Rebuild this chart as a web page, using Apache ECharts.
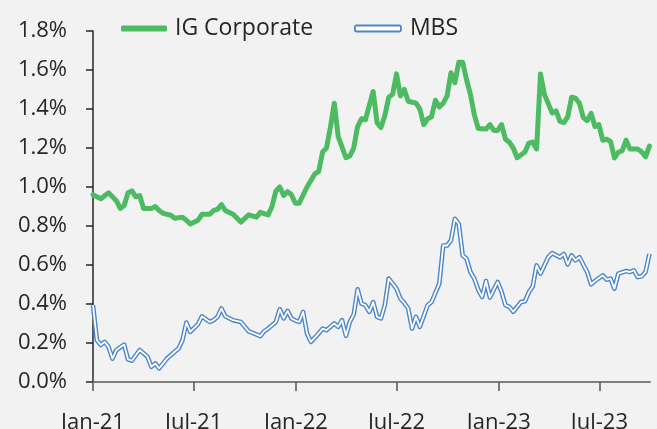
<!DOCTYPE html>
<html>
<head>
<meta charset="utf-8">
<script src="https://cdn.jsdelivr.net/npm/echarts@6/dist/echarts.min.js"></script>
<style>
  html, body { margin: 0; padding: 0; background: #f2f2f2; }
  #chart { width: 657px; height: 429px; }
</style>
</head>
<body>
<div id="chart"></div>
<script>
// Weekly spread readings, in percent
const igDates = [
  '2021-01-01','2021-01-15','2021-01-29','2021-02-12','2021-02-19','2021-02-26','2021-03-05','2021-03-12','2021-03-19','2021-03-26',
  '2021-04-02','2021-04-16','2021-04-23','2021-04-30','2021-05-07','2021-05-21','2021-05-28','2021-06-11','2021-06-18','2021-06-25',
  '2021-07-09','2021-07-16','2021-07-30','2021-08-06','2021-08-13','2021-08-20','2021-08-27','2021-09-10','2021-09-24',
  '2021-10-08','2021-10-22','2021-10-29','2021-11-12','2021-11-19','2021-11-26','2021-12-03','2021-12-10','2021-12-17','2021-12-24','2021-12-31',
  '2022-01-07','2022-01-21','2022-02-04','2022-02-11','2022-02-18','2022-02-25','2022-03-04','2022-03-11','2022-03-18',
  '2022-04-01','2022-04-08','2022-04-15','2022-04-22','2022-04-29','2022-05-06','2022-05-20','2022-05-27','2022-06-03','2022-06-10','2022-06-17','2022-06-24',
  '2022-07-01','2022-07-08','2022-07-15','2022-07-22','2022-08-05','2022-08-12','2022-08-19','2022-08-26','2022-09-02','2022-09-09','2022-09-16','2022-09-23','2022-09-30',
  '2022-10-07','2022-10-14','2022-10-21','2022-10-28','2022-11-04','2022-11-11','2022-11-18','2022-11-25','2022-12-09','2022-12-16','2022-12-23','2022-12-30',
  '2023-01-06','2023-01-13','2023-01-20','2023-01-27','2023-02-03','2023-02-17','2023-02-24','2023-03-03','2023-03-10','2023-03-17','2023-03-24',
  '2023-04-07','2023-04-14','2023-04-21','2023-04-28','2023-05-05','2023-05-12','2023-05-19','2023-05-26','2023-06-02','2023-06-09','2023-06-16','2023-06-23','2023-06-30',
  '2023-07-07','2023-07-14','2023-07-21','2023-07-28','2023-08-04','2023-08-11','2023-08-18','2023-08-25','2023-09-08','2023-09-15','2023-09-22','2023-09-29'
];
const igValues = [
  0.96, 0.94, 0.97, 0.93, 0.89, 0.905, 0.97, 0.98, 0.95, 0.956,
  0.89, 0.89, 0.90, 0.88, 0.865, 0.855, 0.84, 0.845, 0.83, 0.81,
  0.83, 0.86, 0.86, 0.88, 0.885, 0.91, 0.88, 0.86, 0.82,
  0.857, 0.845, 0.87, 0.857, 0.90, 0.98, 1.00, 0.956, 0.976, 0.96, 0.917,
  0.917, 1.00, 1.067, 1.08, 1.18, 1.20, 1.305, 1.43, 1.26,
  1.15, 1.16, 1.20, 1.31, 1.35, 1.345, 1.49, 1.33, 1.305, 1.365, 1.46, 1.475,
  1.58, 1.467, 1.50, 1.44, 1.43, 1.40, 1.32, 1.35, 1.36, 1.445, 1.41, 1.43, 1.467,
  1.586, 1.535, 1.64, 1.64, 1.55, 1.475, 1.37, 1.30, 1.297, 1.32, 1.29, 1.29,
  1.32, 1.245, 1.23, 1.20, 1.15, 1.18, 1.225, 1.23, 1.195, 1.58, 1.475,
  1.38, 1.39, 1.336, 1.33, 1.36, 1.46, 1.455, 1.43, 1.356, 1.34, 1.377, 1.31, 1.32,
  1.24, 1.245, 1.234, 1.149, 1.178, 1.186, 1.24, 1.195, 1.195, 1.18, 1.155, 1.21
];

const mbsDates = [
  '2021-01-01','2021-01-08','2021-01-15','2021-01-22','2021-01-29','2021-02-05','2021-02-12','2021-02-26','2021-03-05','2021-03-12','2021-03-26',
  '2021-04-09','2021-04-16','2021-04-23','2021-04-30','2021-05-14','2021-05-28','2021-06-04','2021-06-11','2021-06-18','2021-06-25',
  '2021-07-09','2021-07-16','2021-07-30','2021-08-06','2021-08-13','2021-08-20','2021-08-27','2021-09-10','2021-09-24',
  '2021-10-08','2021-10-15','2021-10-29','2021-11-05','2021-11-12','2021-11-26','2021-12-03','2021-12-10','2021-12-17','2021-12-24','2021-12-31',
  '2022-01-07','2022-01-14','2022-01-21','2022-01-28','2022-02-11','2022-02-18','2022-02-25','2022-03-11','2022-03-18','2022-03-25',
  '2022-04-01','2022-04-08','2022-04-15','2022-04-22','2022-04-29','2022-05-06','2022-05-13','2022-05-20','2022-05-27','2022-06-03','2022-06-10','2022-06-17',
  '2022-07-01','2022-07-08','2022-07-15','2022-07-22','2022-07-29','2022-08-05','2022-08-12','2022-08-26','2022-09-02','2022-09-16','2022-09-23','2022-09-30',
  '2022-10-07','2022-10-14','2022-10-21','2022-10-28','2022-11-04','2022-11-11','2022-11-18','2022-11-25','2022-12-02','2022-12-09','2022-12-16','2022-12-23','2022-12-30',
  '2023-01-06','2023-01-13','2023-01-20','2023-01-27','2023-02-10','2023-02-17','2023-02-24','2023-03-03','2023-03-10','2023-03-17','2023-03-31',
  '2023-04-07','2023-04-21','2023-04-28','2023-05-05','2023-05-12','2023-05-19','2023-05-26','2023-06-09','2023-06-16','2023-06-23',
  '2023-07-07','2023-07-14','2023-07-21','2023-07-28','2023-08-04','2023-08-18','2023-08-25','2023-09-01','2023-09-08','2023-09-15','2023-09-22','2023-09-29'
];
const mbsValues = [
  0.394, 0.215, 0.19, 0.206, 0.18, 0.12, 0.164, 0.192, 0.116, 0.109, 0.164,
  0.13, 0.078, 0.095, 0.07, 0.12, 0.155, 0.172, 0.215, 0.305, 0.257,
  0.297, 0.337, 0.308, 0.317, 0.334, 0.377, 0.337, 0.317, 0.308,
  0.26, 0.252, 0.235, 0.26, 0.274, 0.308, 0.373, 0.326, 0.365, 0.326, 0.315,
  0.308, 0.36, 0.249, 0.206, 0.249, 0.274, 0.266, 0.30, 0.283, 0.317,
  0.237, 0.308, 0.346, 0.475, 0.402, 0.394, 0.36, 0.41, 0.334, 0.326, 0.394, 0.53,
  0.479, 0.428, 0.405, 0.377, 0.274, 0.334, 0.283, 0.394, 0.41, 0.505, 0.70, 0.70,
  0.726, 0.837, 0.811, 0.649, 0.632, 0.564, 0.53, 0.474, 0.436, 0.518, 0.433, 0.474, 0.513,
  0.462, 0.394, 0.385, 0.36, 0.41, 0.414, 0.46, 0.49, 0.598, 0.556, 0.64,
  0.661, 0.64, 0.657, 0.603, 0.649, 0.624, 0.64, 0.564, 0.501, 0.518,
  0.547, 0.525, 0.53, 0.479, 0.556, 0.569, 0.564, 0.573, 0.538, 0.542, 0.564, 0.657
];

// Half-yearly axis ticks
const tickDates = ['2021-01-01','2021-07-01','2022-01-01','2022-07-01','2023-01-01','2023-07-01'];
const tickLabels = ['Jan-21','Jul-21','Jan-22','Jul-22','Jan-23','Jul-23'];

const GREEN = '#4dbb62';
const BLUE = '#4a86c8';
const TEXT = '#262626';
const FONT = '"Open Sans", "Liberation Sans", sans-serif';

// Dates become millisecond timestamps on a plain value axis
const toTime = d => {
  const [y, m, day] = d.split('-').map(Number);
  return Date.UTC(y, m - 1, day);
};
const tickTimes = tickDates.map(toTime);
const pair = (dates, values) => dates.map((d, i) => [toTime(d), values[i]]);

const chart = echarts.init(document.getElementById('chart'), null, { renderer: 'canvas' });

chart.setOption({
  backgroundColor: '#f2f2f2',
  animation: false,
  textStyle: { fontFamily: FONT },
  legend: [
    {
      left: 121, top: 17, padding: 0,
      itemWidth: 46, itemHeight: 6,
      icon: 'roundRect',
      data: [{ name: 'IG Corporate' }],
      textStyle: { fontSize: 23, color: TEXT, fontFamily: FONT, padding: [0, 0, 0, 3] }
    },
    {
      left: 354, top: 17, padding: 0,
      itemWidth: 46, itemHeight: 6,
      icon: 'roundRect',
      data: [{ name: 'MBS', itemStyle: { color: '#ffffff', borderColor: BLUE, borderWidth: 1.8 } }],
      textStyle: { fontSize: 23, color: TEXT, fontFamily: FONT, padding: [0, 0, 0, 4] }
    }
  ],
  grid: {
    left: 93, right: 7, top: 31, bottom: 47,
    containLabel: false,
    outerBoundsMode: 'none'
  },
  xAxis: {
    type: 'value',
    min: toTime('2021-01-01'),
    max: toTime('2023-09-30'),
    axisLine: { show: true, lineStyle: { color: '#7f7f7f', width: 2 } },
    axisTick: { show: true, length: 9, lineStyle: { color: '#555555', width: 1.5 }, customValues: tickTimes },
    axisLabel: {
      customValues: tickTimes,
      margin: 30,
      fontSize: 22,
      color: TEXT,
      fontFamily: FONT,
      formatter: function (value) {
        let best = 0;
        tickTimes.forEach((t, i) => { if (Math.abs(t - value) < Math.abs(tickTimes[best] - value)) best = i; });
        return tickLabels[best];
      }
    },
    splitLine: { show: false }
  },
  yAxis: {
    type: 'value',
    min: 0, max: 1.8, interval: 0.2,
    axisLine: { show: true, lineStyle: { color: '#262626', width: 1.5 } },
    axisTick: { show: true, inside: false, length: 7, lineStyle: { color: '#262626', width: 1.5 } },
    axisLabel: {
      margin: 26,
      fontSize: 22,
      color: TEXT,
      fontFamily: FONT,
      formatter: v => v.toFixed(1) + '%'
    },
    splitLine: { show: false }
  },
  series: [
    {
      name: 'IG Corporate',
      type: 'line',
      data: pair(igDates, igValues),
      symbol: 'none',
      color: GREEN,
      lineStyle: { color: GREEN, width: 5, cap: 'round', join: 'round' },
      z: 3
    },
    {
      name: 'MBS',
      type: 'line',
      data: pair(mbsDates, mbsValues),
      symbol: 'none',
      color: BLUE,
      lineStyle: { color: BLUE, width: 4.6, join: 'round' },
      z: 2
    },
    {
      name: 'MBS core',
      type: 'line',
      data: pair(mbsDates, mbsValues),
      symbol: 'none',
      color: '#ffffff',
      lineStyle: { color: '#ffffff', width: 1.8, join: 'round' },
      z: 2.5
    }
  ]
});
</script>
</body>
</html>
